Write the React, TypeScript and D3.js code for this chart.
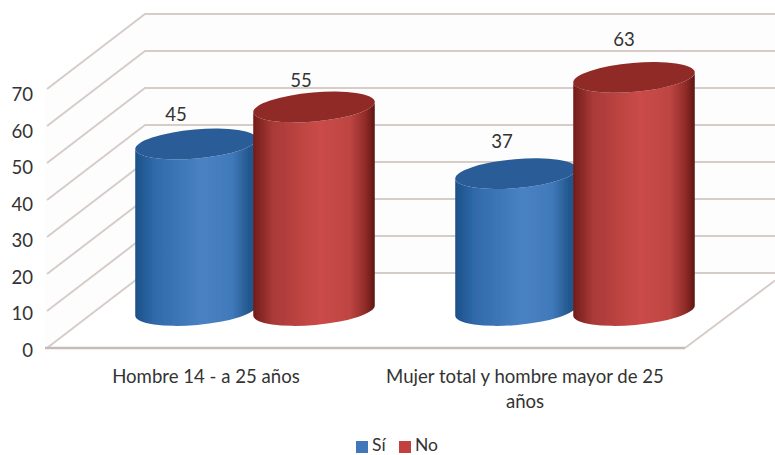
import React from "react";
import * as d3 from "d3";

const categories = ["Hombre 14 - a 25 años", "Mujer total y hombre mayor de 25 años"];
const seriesNames = ["Sí", "No"];
const si = [45, 37];
const no = [55, 63];
const ticks = [0, 10, 20, 30, 40, 50, 60, 70];

const W = 775, H = 455;
const floorY = 348, depthX = 100, depthY = 75, frontL = 45, frontR = 685;
const FONT = "Lato, 'Noto Sans', sans-serif";
const TEXT = "#333333";
const GRID = "#d6cdc9";
const FS = 18.6;

const y = d3.scaleLinear().domain([0, 70]).range([floorY, 89]);
const xFront = d3.scaleBand<string>().domain(categories).range([frontL, frontR]);
const sub = d3.scaleBand<string>().domain(seriesNames).range([-118, 118]);

const RX = 61, RY = 14.5, TILT = -5;
const palettes = [
  { id: "g-si", stops: ["#1d5088", "#2f6aaa", "#4a82c4", "#4079ba", "#24598f", "#1d4f85"], top: "#2a5d97", legend: "#4077bb" },
  { id: "g-no", stops: ["#731c19", "#a83a37", "#cb4b49", "#bd4442", "#8c2a27", "#5e1512"], top: "#8f2b27", legend: "#c0413e" },
];
const stopOffsets = [0, 0.16, 0.55, 0.8, 0.93, 1];
const labelNudge = [[-20, -30], [-13, -27], [-14, -32], [-10, -38]];

function Cylinder({ cx, value, p }: { cx: number; value: number; p: (typeof palettes)[number] }) {
  const baseY = y(0) - depthY / 2;
  const topY = baseY - (y(0) - y(value));
  const t = (TILT * Math.PI) / 180;
  const ex = RX * Math.cos(t), ey = RX * Math.sin(t);
  const body = `M${cx - ex},${topY - ey} L${cx - ex},${baseY - ey} A${RX},${RY} ${TILT} 0 0 ${cx + ex},${baseY + ey} L${cx + ex},${topY + ey} A${RX},${RY} ${TILT} 0 1 ${cx - ex},${topY - ey} Z`;
  return (
    <g>
      <path d={body} fill={`url(#${p.id})`} />
      <ellipse cx={cx} cy={topY} rx={RX} ry={RY} fill={p.top} transform={`rotate(${TILT} ${cx} ${topY})`} />
    </g>
  );
}

export default function App() {
  const backY = (v: number) => y(v) - depthY;
  const floorRightY = floorY - (depthY * (W - frontR)) / depthX;
  return (
    <svg width={W} height={H} viewBox={`0 0 ${W} ${H}`} style={{ position: "absolute", left: 0, top: 0, background: "#fff" }} fontFamily={FONT}>
      <defs>
        {palettes.map((p) => (
          <linearGradient key={p.id} id={p.id} x1="0" x2="1" y1="0" y2="0">
            {p.stops.map((c, i) => <stop key={i} offset={stopOffsets[i]} stopColor={c} />)}
          </linearGradient>
        ))}
        <filter id="soft" x="-5%" y="-5%" width="110%" height="110%"><feGaussianBlur stdDeviation="0.6" /></filter>
      </defs>

      <g filter="url(#soft)">
        <polygon points={`${frontL},${y(70)} ${frontL + depthX},${backY(70)} ${W},${backY(70)} ${W},${backY(0)} ${frontL + depthX},${backY(0)} ${frontL},${y(0)}`} fill="#fdfdfd" />
        {ticks.map((t) => (
          <polyline key={t} fill="none" stroke={GRID} strokeWidth={2}
            points={`${frontL + 2},${y(t)} ${frontL + depthX},${backY(t)} ${W},${backY(t)}`} />
        ))}
        <line x1={frontR} y1={floorY} x2={W} y2={floorRightY} stroke={GRID} strokeWidth={2} />
        <line x1={frontL} x2={frontR} y1={floorY} y2={floorY} stroke="#c5bcb8" strokeWidth={2.4} />

        {categories.map((c, i) => {
          const center = xFront(c)! + xFront.bandwidth() / 2 + depthX / 2;
          const cxS = center + sub(seriesNames[0])! + sub.bandwidth() / 2;
          const cxN = center + sub(seriesNames[1])! + sub.bandwidth() / 2;
          return (
            <g key={c}>
              <Cylinder cx={cxS} value={si[i]} p={palettes[0]} />
              <Cylinder cx={cxN} value={no[i]} p={palettes[1]} />
            </g>
          );
        })}
      </g>

      {ticks.map((t) => (
        <text key={t} x={33} y={y(t) + (3.5 * (t / 70)) + 2} dy="0.36em" textAnchor="end" fontSize={FS} fill={TEXT}>{t}</text>
      ))}

      {categories.map((c, i) => {
        const center = xFront(c)! + xFront.bandwidth() / 2 + depthX / 2;
        const vals = [si[i], no[i]];
        return vals.map((v, j) => {
          const cx = center + sub(seriesNames[j])! + sub.bandwidth() / 2;
          const topY = y(0) - depthY / 2 - (y(0) - y(v));
          const [nx, ny] = labelNudge[i * 2 + j];
          return <text key={j} x={cx + nx} y={topY + ny} dy="0.36em" textAnchor="middle" fontSize={FS} fill={TEXT}>{v}</text>;
        });
      })}

      <text x={xFront(categories[0])! + xFront.bandwidth() / 2 + 1} y={376} dy="0.36em" textAnchor="middle" fontSize={FS} fill={TEXT}>{categories[0]}</text>
      <text x={xFront(categories[1])! + xFront.bandwidth() / 2} y={376} dy="0.36em" textAnchor="middle" fontSize={FS} fill={TEXT}>Mujer total y hombre mayor de 25</text>
      <text x={xFront(categories[1])! + xFront.bandwidth() / 2} y={401} dy="0.36em" textAnchor="middle" fontSize={FS} fill={TEXT}>años</text>

      <rect x={356} y={441} width={12} height={12} fill={palettes[0].legend} />
      <text x={372} y={451} fontSize={17.5} fill={TEXT}>{seriesNames[0]}</text>
      <rect x={399} y={441} width={12} height={12} fill={palettes[1].legend} />
      <text x={415} y={451} fontSize={17.5} fill={TEXT}>{seriesNames[1]}</text>
    </svg>
  );
}
